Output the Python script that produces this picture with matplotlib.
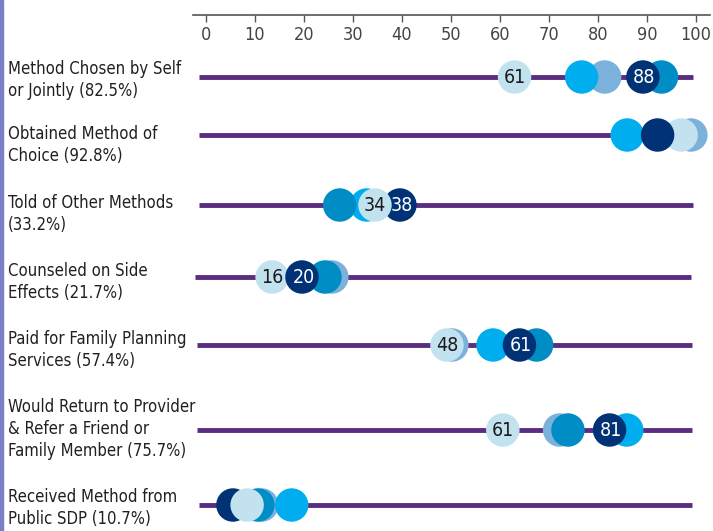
import matplotlib.pyplot as plt
import matplotlib.transforms as mtransforms
from matplotlib.patches import Rectangle

plt.rcParams['font.family'] = ['DejaVu Sans Condensed', 'Liberation Sans Narrow', 'DejaVu Sans']
plt.rcParams['font.stretch'] = 'condensed'

row_labels = [
    'Method Chosen by Self\nor Jointly (82.5%)',
    'Obtained Method of\nChoice (92.8%)',
    'Told of Other Methods\n(33.2%)',
    'Counseled on Side\nEffects (21.7%)',
    'Paid for Family Planning\nServices (57.4%)',
    'Would Return to Provider\n& Refer a Friend or\nFamily Member (75.7%)',
    'Received Method from\nPublic SDP (10.7%)',
]

# values per series, one per row
light = [63.0, 97.0, 34.5, 13.5, 49.2, 60.6, 8.4]
cyan = [76.7, 86.0, 32.8, None, 58.6, 85.9, 17.5]
steel = [81.4, 99.0, None, 25.7, 50.2, 72.2, 11.4]
teal = [93.0, None, 27.3, 24.3, 67.5, 73.9, 10.6]
navy = [89.2, 92.2, 39.6, 19.6, 64.0, 82.4, 5.5]

light_labels = ['61', None, '34', '16', '48', '61', None]
navy_labels = ['88', None, '38', '20', '61', '81', None]

line_start = [-1.5, -1.5, -1.5, -2.3, -1.8, -1.8, -1.5]
line_end = [99.5, 99.5, 99.5, 99.0, 99.3, 99.2, 99.3]

# draw order per row (bottom to top)
orders = [
    ['light', 'steel', 'cyan', 'teal', 'navy'],
    ['steel', 'light', 'cyan', 'navy'],
    ['cyan', 'teal', 'navy', 'light'],
    ['steel', 'teal', 'light', 'navy'],
    ['steel', 'light', 'cyan', 'teal', 'navy'],
    ['light', 'steel', 'teal', 'cyan', 'navy'],
    ['navy', 'steel', 'teal', 'cyan', 'light'],
]

colors = {'light': '#c3e2f0', 'cyan': '#00aeef', 'steel': '#7cb1dc',
          'teal': '#008cc4', 'navy': '#003275'}
series = {'light': light, 'cyan': cyan, 'steel': steel, 'teal': teal, 'navy': navy}

row_y = [77, 135, 205, 277, 345, 430, 505]
text_y = [60, 125, 194, 262, 330, 398, 488]

fig = plt.figure(figsize=(7.13, 5.31), dpi=100)
# thin coloured strip on the left edge
fig.patches.append(Rectangle((0, 0), 3 / 713, 1, transform=fig.transFigure,
                             color='#7a7fc3', zorder=0))
ax = fig.add_axes([193 / 713, 0, (710 - 193) / 713, (531 - 15) / 531])
ax.set_xlim(-2.65, 102.9)
ax.set_ylim(531, 15)

for i, y in enumerate(row_y):
    ax.plot([line_start[i], line_end[i]], [y, y], color='#5a2d81', lw=3.5,
            solid_capstyle='butt', zorder=1)
    z = 2
    for name in orders[i]:
        v = series[name][i]
        if v is None:
            continue
        ax.scatter([v], [y], s=580, color=colors[name], edgecolors='none',
                   zorder=z, clip_on=False)
        if name == 'light' and light_labels[i]:
            ax.text(v, y + 0.5, light_labels[i], ha='center', va='center',
                    fontsize=14, color='#1a1a1a', zorder=20)
        if name == 'navy' and navy_labels[i]:
            ax.text(v + 0.3, y + 0.5, navy_labels[i], ha='center', va='center',
                    fontsize=14, color='white', zorder=20)
        z += 1

trans = mtransforms.blended_transform_factory(fig.transFigure, ax.transData)
for lab, ty in zip(row_labels, text_y):
    ax.text(8 / 713, ty, lab, transform=trans, ha='left', va='top',
            fontsize=12, color='#231f20', linespacing=1.3)

ax.xaxis.tick_top()
ax.set_xticks(range(0, 101, 10))
ax.tick_params(axis='x', direction='in', length=5, width=1, color='#555555',
               labelcolor='#444444', labelsize=13, pad=-21, top=True,
               bottom=False, labeltop=True, labelbottom=False)
ax.set_yticks([])
for side in ['left', 'right', 'bottom']:
    ax.spines[side].set_visible(False)
ax.spines['top'].set_color('#555555')
ax.spines['top'].set_linewidth(1.2)

fig.savefig('out.png', dpi=100)
